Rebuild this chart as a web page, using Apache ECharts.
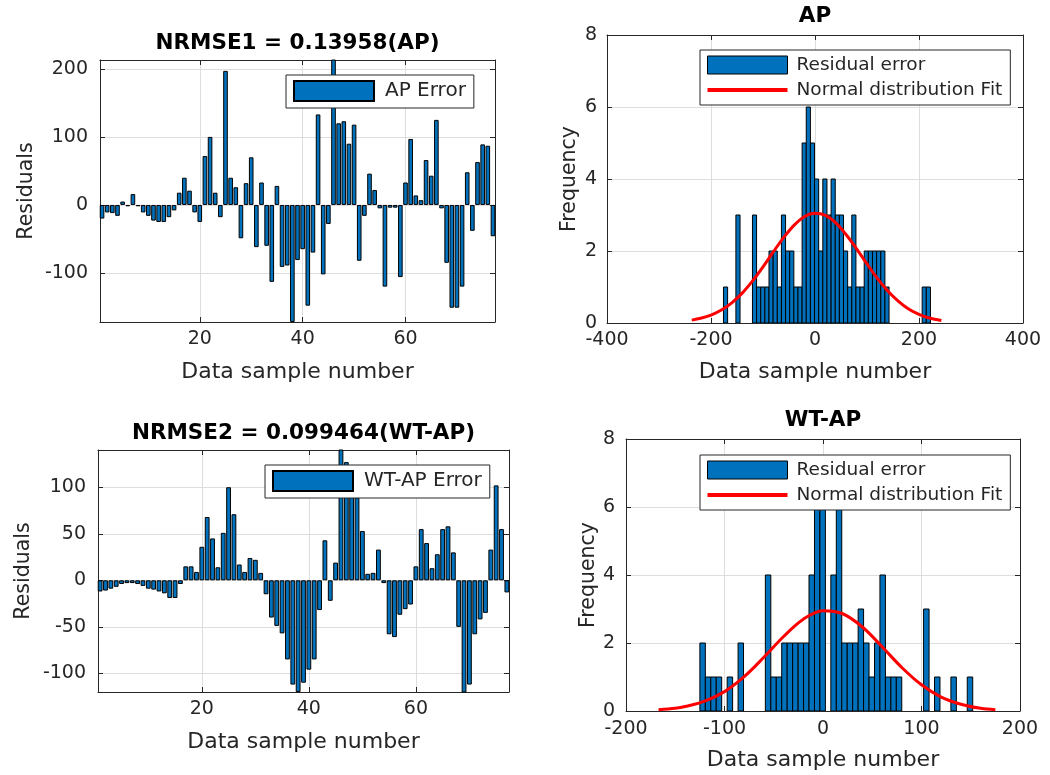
<!DOCTYPE html>
<html>
<head>
<meta charset="utf-8">
<script src="https://cdn.jsdelivr.net/npm/echarts@6/dist/echarts.min.js"></script>
<style>
html,body{margin:0;padding:0;background:#fff;}
#c{width:1050px;height:775px;}
</style>
</head>
<body>
<div id="c"></div>
<script>
// ---------------- data ----------------
const apError = [
  -20, -11, -12, -16, 5, -2, 16, -2, -11, -16,
  -23, -25, -25, -18, -8, 18, 40, 21, -11, -25,
  72, 100, 18, -18, 197, 40, 26, -49, 32, 70,
  -62, 33, -60, -113, 28, -91, -89, -172, -81, -65,
  -148, -70, 133, -102, -28, 215, 120, 123, 90, 118,
  -82, -16, 46, 22, -5, -120, -4, -4, -106, 33,
  97, 14, 7, 66, 43, 125, -5, -85, -151, -151,
  -120, 48, -38, 63, 89, 87, -46
];
const wtapError = [
  -12, -11, -9, -7, -4, -3, -3, -4, -6, -9,
  -10, -12, -14, -19, -19, -4, 15, 15, 9, 36,
  68, 45, 14, 51, 100, 71, 17, 9, 24, 22,
  8, -15, -40, -49, -57, -85, -112, -120, -110, -96,
  -85, -32, 43, -22, 19, 145, 127, 95, 89, 53,
  7, 8, 33, -3, -58, -61, -37, -31, -26, 15,
  55, 40, 13, 28, 55, 58, 30, -50, -121, -112,
  -58, -42, -35, 33, 102, 55, -13
];
const sampleTicks = [20, 40, 60];
const apResidTicks = [-100, 0, 100, 200];
const wtapResidTicks = [-100, -50, 0, 50, 100];

const apHistCounts = [
  1, 0, 0, 3, 0, 0, 0, 3, 1, 1,
  1, 2, 2, 1, 3, 2, 2, 1, 1, 5,
  6, 5, 4, 2, 4, 3, 4, 3, 3, 2,
  1, 3, 1, 1, 2, 2, 2, 2, 2, 1,
  0, 0, 0, 0, 0, 0, 0, 0, 1, 1
];
const apBinStart = -176;
const apBinWidth = 7.96;

const wtapHistCounts = [
  2, 1, 1, 1, 0, 1, 0, 2, 0, 0,
  0, 0, 4, 1, 1, 2, 2, 2, 2, 2,
  4, 6, 6, 0, 4, 6, 2, 2, 2, 3,
  2, 1, 2, 4, 1, 1, 1, 0, 0, 0,
  0, 3, 0, 1, 0, 0, 1, 0, 0, 1
];
const wtapBinStart = -125;
const wtapBinWidth = 5.54;

const apFitX = [-237, -220, -200, -180, -160, -140, -120, -100, -80, -60, -40, -20, 0, 20, 40, 60, 80, 100, 120, 140, 160, 180, 200, 220, 243];
const apFitY = [0.08, 0.13, 0.22, 0.36, 0.56, 0.83, 1.17, 1.56, 1.98, 2.38, 2.72, 2.96, 3.05, 2.99, 2.78, 2.45, 2.06, 1.64, 1.24, 0.89, 0.61, 0.39, 0.24, 0.14, 0.07];
const wtapFitX = [-167, -150, -140, -120, -100, -80, -60, -40, -20, 0, 20, 40, 60, 80, 100, 120, 140, 160, 175];
const wtapFitY = [0.04, 0.08, 0.13, 0.29, 0.57, 1.01, 1.58, 2.19, 2.70, 2.95, 2.86, 2.47, 1.89, 1.28, 0.77, 0.41, 0.20, 0.08, 0.04];

// ---------------- styling ----------------
const FONT = 'DejaVu Sans';
const INK = '#262626';
const GRIDC = '#dedede';
const BLUE = '#0072BD';
const RED = '#ff0000';

const grids = [
  {left: 100, top: 60, width: 395, height: 262},   // top-left
  {left: 98, top: 450, width: 411, height: 242},   // bottom-left
  {left: 607, top: 35, width: 416, height: 288},   // top-right
  {left: 626, top: 439, width: 394, height: 272}   // bottom-right
];

function makeX(gi, o) {
  return [{
    gridIndex: gi, type: 'value', position: 'bottom', min: o.min, max: o.max, interval: o.interval,
    name: o.name, nameLocation: 'middle', nameGap: o.nameGap,
    nameTextStyle: {fontFamily: FONT, fontSize: 22, color: INK},
    axisLine: {show: true, onZero: false, lineStyle: {color: INK, width: 1}},
    axisTick: {show: true, inside: true, length: 5, lineStyle: {color: INK}, customValues: o.ticks},
    axisLabel: {show: true, margin: o.labelMargin, fontFamily: FONT, fontSize: 19, color: INK, customValues: o.ticks},
    splitLine: {show: true, lineStyle: {color: GRIDC, width: 1}}
  }, {
    gridIndex: gi, type: 'value', position: 'top', min: o.min, max: o.max, interval: o.interval,
    axisLine: {show: true, onZero: false, lineStyle: {color: INK, width: 1}},
    axisTick: {show: true, inside: true, length: 5, lineStyle: {color: INK}, customValues: o.ticks},
    axisLabel: {show: false}, splitLine: {show: false}
  }];
}
function makeY(gi, o) {
  return [{
    gridIndex: gi, type: 'value', position: 'left', min: o.min, max: o.max, interval: o.interval,
    name: o.name, nameLocation: 'middle', nameGap: o.nameGap,
    nameTextStyle: {fontFamily: FONT, fontSize: 20.5, color: INK},
    axisLine: {show: true, onZero: false, lineStyle: {color: INK, width: 1}},
    axisTick: {show: true, inside: true, length: 5, lineStyle: {color: INK}, customValues: o.ticks},
    axisLabel: {show: true, margin: o.labelMargin, fontFamily: FONT, fontSize: 19, color: INK, customValues: o.ticks},
    splitLine: {show: true, lineStyle: {color: GRIDC, width: 1}}
  }, {
    gridIndex: gi, type: 'value', position: 'right', min: o.min, max: o.max, interval: o.interval,
    axisLine: {show: true, onZero: false, lineStyle: {color: INK, width: 1}},
    axisTick: {show: true, inside: true, length: 5, lineStyle: {color: INK}, customValues: o.ticks},
    axisLabel: {show: false}, splitLine: {show: false}
  }];
}

const xTL = makeX(0, {min: 0.6, max: 77.4, ticks: sampleTicks, name: 'Data sample number', nameGap: 39, labelMargin: 8});
const xBL = makeX(1, {min: 0.6, max: 77.4, ticks: sampleTicks, name: 'Data sample number', nameGap: 39, labelMargin: 8});
const xTR = makeX(2, {min: -400, max: 400, interval: 200, name: 'Data sample number', nameGap: 38, labelMargin: 8});
const xBR = makeX(3, {min: -200, max: 200, interval: 100, name: 'Data sample number', nameGap: 38, labelMargin: 9});

const yTL = makeY(0, {min: -172, max: 213, ticks: apResidTicks, name: 'Residuals', nameGap: 63, labelMargin: 12});
const yBL = makeY(1, {min: -120, max: 140, ticks: wtapResidTicks, name: 'Residuals', nameGap: 64, labelMargin: 12});
const yTR = makeY(2, {min: 0, max: 8, interval: 2, name: 'Frequency', nameGap: 27, labelMargin: 10});
const yBR = makeY(3, {min: 0, max: 8, interval: 2, name: 'Frequency', nameGap: 24, labelMargin: 11});

function residSeries(gi, name, values, barW) {
  return {
    type: 'bar', name: name, xAxisIndex: gi, yAxisIndex: gi,
    data: values.map((v, i) => [i + 1, v]),
    barWidth: barW, clip: true,
    itemStyle: {color: BLUE, borderColor: '#000', borderWidth: 1}
  };
}
function histSeries(gi, counts, start, width) {
  return {
    type: 'custom', name: 'Residual error', xAxisIndex: gi, yAxisIndex: gi, clip: true,
    itemStyle: {color: BLUE, borderColor: '#000', borderWidth: 1},
    encode: {x: [0, 1], y: 2},
    data: counts.map((c, k) => [start + k * width, start + (k + 1) * width, c]),
    renderItem: function (params, api) {
      const c = api.value(2);
      if (!c) return null;
      const p0 = api.coord([api.value(0), 0]);
      const p1 = api.coord([api.value(1), c]);
      return {
        type: 'rect',
        shape: {x: p0[0], y: p1[1], width: p1[0] - p0[0], height: p0[1] - p1[1]},
        style: {fill: BLUE, stroke: '#000', lineWidth: 1}
      };
    }
  };
}
function fitSeries(gi, xs, ys) {
  return {
    type: 'line', name: 'Normal distribution Fit', xAxisIndex: gi, yAxisIndex: gi,
    data: xs.map((x, i) => [x, ys[i]]), smooth: 0.35, symbol: 'none', z: 5,
    lineStyle: {color: RED, width: 3}, itemStyle: {color: RED}
  };
}

const legendBase = {
  orient: 'vertical', selectedMode: false, backgroundColor: '#fff',
  borderColor: INK, borderWidth: 1, borderRadius: 0, itemWidth: 80, symbolKeepAspect: true
};
const histLegendData = [
  {name: 'Residual error', icon: 'rect', itemStyle: {color: BLUE, borderColor: '#000', borderWidth: 1}},
  {name: 'Normal distribution Fit', icon: 'path://M0,0 L80,0 L80,4 L0,4 Z', itemStyle: {color: RED, borderWidth: 0}}
];

const option = {
  animation: false,
  backgroundColor: '#fff',
  grid: grids,
  xAxis: [xTL[0], xBL[0], xTR[0], xBR[0], xTL[1], xBL[1], xTR[1], xBR[1]],
  yAxis: [yTL[0], yBL[0], yTR[0], yBR[0], yTL[1], yBL[1], yTR[1], yBR[1]],
  legend: [
    Object.assign({}, legendBase, {
      data: [{name: 'AP Error', icon: 'rect'}], left: 286, top: 75, itemHeight: 20,
      padding: [5, 8, 6, 7], textStyle: {fontFamily: FONT, fontSize: 20, color: INK, padding: [0, 0, 0, 6]}
    }),
    Object.assign({}, legendBase, {
      data: [{name: 'WT-AP Error', icon: 'rect'}], left: 265, top: 465, itemHeight: 20,
      padding: [5, 8, 6, 7], textStyle: {fontFamily: FONT, fontSize: 20, color: INK, padding: [0, 0, 0, 6]}
    }),
    Object.assign({}, legendBase, {
      data: histLegendData,
      left: 700, top: 50, itemHeight: 18, itemGap: 5,
      padding: [5, 8, 5, 7], textStyle: {fontFamily: FONT, fontSize: 18.5, color: INK, lineHeight: 20, padding: [0, 0, 0, 4]}
    }),
    Object.assign({}, legendBase, {
      data: histLegendData,
      left: 700, top: 455, itemHeight: 18, itemGap: 5,
      padding: [5, 8, 5, 7], textStyle: {fontFamily: FONT, fontSize: 18.5, color: INK, lineHeight: 20, padding: [0, 0, 0, 4]}
    })
  ],
  graphic: [
    {type: 'text', x: 297.5, y: 43, style: {text: 'NRMSE1 = 0.13958(AP)', fontFamily: FONT, fontSize: 21.5, fontWeight: 'bold', fill: '#000', align: 'center', verticalAlign: 'middle'}},
    {type: 'text', x: 303.5, y: 433, style: {text: 'NRMSE2 = 0.099464(WT-AP)', fontFamily: FONT, fontSize: 21.5, fontWeight: 'bold', fill: '#000', align: 'center', verticalAlign: 'middle'}},
    {type: 'text', x: 815, y: 16, style: {text: 'AP', fontFamily: FONT, fontSize: 21.5, fontWeight: 'bold', fill: '#000', align: 'center', verticalAlign: 'middle'}},
    {type: 'text', x: 823, y: 420, style: {text: 'WT-AP', fontFamily: FONT, fontSize: 21.5, fontWeight: 'bold', fill: '#000', align: 'center', verticalAlign: 'middle'}}
  ],
  series: [
    residSeries(0, 'AP Error', apError, 4.6),
    residSeries(1, 'WT-AP Error', wtapError, 4.8),
    histSeries(2, apHistCounts, apBinStart, apBinWidth),
    fitSeries(2, apFitX, apFitY),
    histSeries(3, wtapHistCounts, wtapBinStart, wtapBinWidth),
    fitSeries(3, wtapFitX, wtapFitY)
  ]
};

const chart = echarts.init(document.getElementById('c'), null, {renderer: 'canvas'});
chart.setOption(option);
</script>
</body>
</html>
